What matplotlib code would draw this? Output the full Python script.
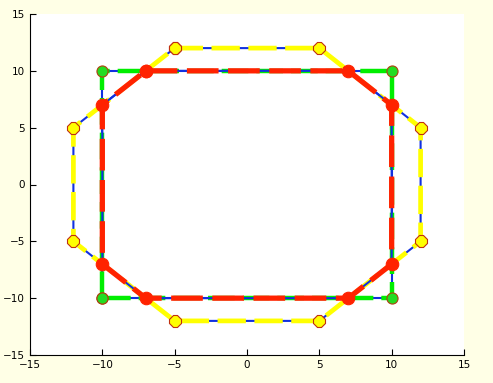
import matplotlib
matplotlib.use("Agg")
import matplotlib.pyplot as plt

# square
sq_x = [-10, -10, 10, 10, -10]
sq_y = [-10, 10, 10, -10, -10]

# outer octagon
oct1_x = [-5, 5, 12, 12, 5, -5, -12, -12, -5]
oct1_y = [12, 12, 5, -5, -12, -12, -5, 5, 12]

# inner octagon
oct2_x = [-7, 7, 10, 10, 7, -7, -10, -10, -7]
oct2_y = [10, 10, 7, -7, -10, -10, -7, 7, 10]

fig = plt.figure(figsize=(4.93, 3.83), dpi=100, facecolor='#ffffe6')
ax = fig.add_axes([30/493, 28/383, 434/493, 341/383])

def draw(x, y, col, lw, dash, mk, ms, mfc, mec, z):
    ax.plot(x, y, color='#1030e0', lw=1.5, zorder=z)
    ax.plot(x, y, color=col, lw=lw, dashes=dash, zorder=z + 0.1)
    ax.plot(x, y, ls='none', marker=mk, ms=ms, mfc=mfc, mec=mec, mew=0.8, zorder=z + 0.2)

draw(sq_x, sq_y, '#00ee00', 3.2, (6, 1.8), 'o', 8, '#22dd22', '#b04010', 2)
draw(oct1_x, oct1_y, '#ffff00', 3.4, (6, 1.8), '8', 9, '#ffff00', '#c03010', 3)
draw(oct2_x, oct2_y, '#ff2200', 3.8, (6, 1.8), 'o', 9, '#ff2200', '#ff2200', 4)

ax.set_xlim(-15, 15)
ax.set_ylim(-15, 15)
ax.set_xticks(range(-15, 16, 5))
ax.set_yticks(range(-15, 16, 5))
ax.spines['top'].set_visible(False)
ax.spines['right'].set_visible(False)
ax.tick_params(direction='in', labelsize=7.5, length=4)

fig.savefig('out.png', dpi=100, facecolor=fig.get_facecolor())
